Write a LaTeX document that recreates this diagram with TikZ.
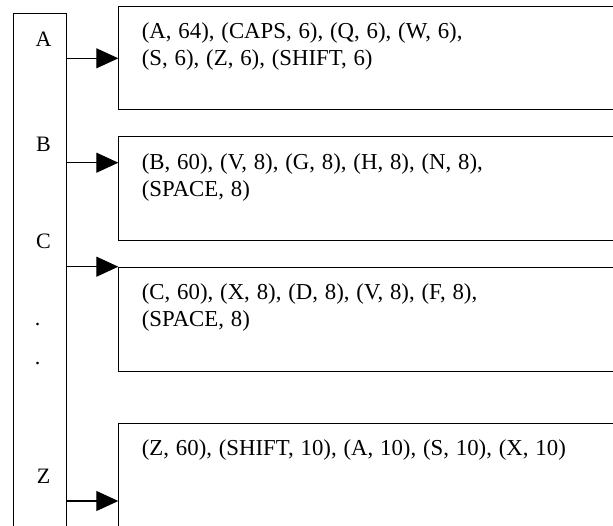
\documentclass[tikz,border=0pt]{standalone}
\usepackage{fontspec}
\setmainfont{Liberation Serif}
\usetikzlibrary{arrows.meta}
\newcommand\myboxfont{\fontsize{22.8}{27}\selectfont}
\newcommand\mywidespace{\spaceskip=0.3em plus 0.1em\relax}
\begin{document}
\begin{tikzpicture}[x=1pt,y=-1pt,
  frame/.style={draw=black,line width=1.1pt,rectangle,inner sep=0pt,anchor=north west},
  lbl/.style={inner sep=0pt,anchor=base,font=\fontsize{22}{26}\selectfont},
  txt/.style={inner sep=0pt,anchor=base west,align=left,text width=470pt,
    font=\myboxfont,execute at begin node=\mywidespace},
  arr/.style={line width=1.1pt,-{Triangle[length=22pt,width=20pt]}}]
\useasboundingbox (0,0) rectangle (613,525);
\clip (0,0) rectangle (613,525);
% left column
\node[frame,minimum width=52.4pt,minimum height=540pt] (col) at (13.3,13.3) {};
\node[lbl] (la) at (43.5,46.5) {A};
\node[lbl] (lb) at (43.5,151.7) {B};
\node[lbl] (lc) at (43.5,248) {C};
\node[lbl] (ld1) at (37.7,325) {.};
\node[lbl] (ld2) at (37.7,364) {.};
\node[lbl] (lz) at (43.5,483) {Z};
% boxes
\node[frame,minimum width=540pt,minimum height=103.3pt] (b1) at (118.3,6) {};
\node[frame,minimum width=540pt,minimum height=104pt] (b2) at (118.3,136) {};
\node[frame,minimum width=540pt,minimum height=104pt] (b3) at (118.3,266.7) {};
\node[frame,minimum width=540pt,minimum height=150pt] (b4) at (118.3,423.3) {};
% texts
\node[txt] (t1) at (141.7,38.5) {(A, 64), (CAPS, 6), (Q, 6), (W, 6),\\(S, 6), (Z, 6), (SHIFT, 6)};
\node[txt] (t2) at (141.7,169.3) {(B, 60), (V, 8), (G, 8), (H, 8), (N, 8),\\(SPACE, 8)};
\node[txt] (t3) at (141.7,299.3) {(C, 60), (X, 8), (D, 8), (V, 8), (F, 8),\\(SPACE, 8)};
\node[txt] (t4) at (141.7,455) {(Z, 60), (SHIFT, 10), (A, 10), (S, 10), (X, 10)};
% arrow targets
\coordinate (pa) at (118.3,58.3);
\coordinate (pb) at (118.3,162.7);
\coordinate (pc) at (118.3,266.7);
\coordinate (pz) at (118.3,501);
\draw[arr] (col.east |- pa) -- (pa);
\draw[arr] (col.east |- pb) -- (pb);
\draw[arr] (col.east |- pc) -- (pc);
\draw[arr] (col.east |- pz) -- (pz);
\end{tikzpicture}
\end{document}
